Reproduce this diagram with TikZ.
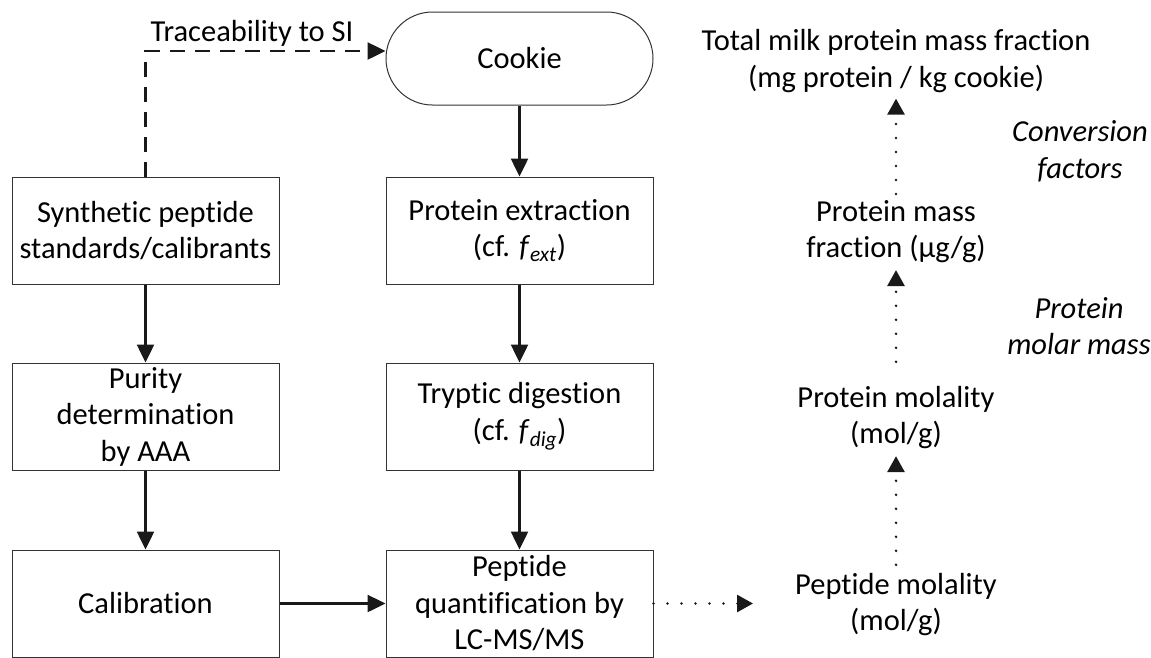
\documentclass[tikz,border=0pt]{standalone}
\usepackage{fontspec}
\setmainfont[Ligatures=NoCommon]{Carlito}
\usetikzlibrary{arrows.meta}
\begin{document}
\begin{tikzpicture}[x=1pt,y=-1pt,
  txt/.style={font=\fontsize{30.5}{36.5}\selectfont, align=center, inner sep=0pt},
  itxt/.style={txt, font=\fontsize{30.5}{36.5}\selectfont\itshape},
  stepbox/.style={txt, draw=black!80, line width=1pt, minimum width=267pt, minimum height=107pt},
  solidarrow/.style={line width=2.5pt, draw=black!90, -{Triangle[length=18pt,width=17pt]}},
  dasharrow/.style={line width=2.5pt, draw=black!90, dash pattern=on 15pt off 10pt, -{Triangle[length=18pt,width=17pt]}},
  dotarrow/.style={line width=2.8pt, draw=black!90, line cap=round, dash pattern=on 0pt off 14pt, -{Triangle[length=16pt,width=17pt,line cap=butt,line join=miter]}}
]
\useasboundingbox (0,0) rectangle (1151,657);
% left column
\node[stepbox] (syn) at (145.5,230.5) {Synthetic peptide\\standards/calibrants};
\node[stepbox] (pur) at (145.5,416.5) {Purity\\determination\\by AAA};
\node[stepbox] (cal) at (145.5,603.5) {Calibration};
% middle column
\node[txt, draw=black!80, line width=1pt, minimum width=267pt, minimum height=93pt, rounded corners=46.5pt] (cookie) at (519.5,58.5) {Cookie};
\node[stepbox] (ext) at (519.5,230.5) {Protein extraction\\(cf. \textit{f}\textsubscript{\textit{ext}})};
\node[stepbox] (dig) at (519.5,416.5) {Tryptic digestion\\(cf. \textit{f}\textsubscript{\textit{dig}})};
\node[stepbox] (pep) at (519.5,603.5) {Peptide\\quantification by\\LC-MS/MS};
% right column
\node[txt] (tot) at (896,61) {Total milk protein mass fraction\\(mg protein / kg cookie)};
\node[txt] (pmf) at (896,231.5) {Protein mass\\fraction (μg/g)};
\node[txt] (prm) at (896,417.5) {Protein molality\\(mol/g)};
\node[txt] (pml) at (896,604.5) {Peptide molality\\(mol/g)};
\node[itxt] (conv) at (1080,151.5) {Conversion\\factors};
\node[itxt] (molm) at (1079,326) {Protein\\molar mass};
% traceability
\node[txt] (trlab) at (252,33) {Traceability to SI};
\coordinate (tr) at (145.5,51);
% connectors
\draw[dasharrow] (syn.north) -- (tr) -- (tr -| cookie.west);
\draw[solidarrow] (cookie.south) -- (ext.north);
\draw[solidarrow] (ext.south) -- (dig.north);
\draw[solidarrow] (dig.south) -- (pep.north);
\draw[solidarrow] (syn.south) -- (pur.north);
\draw[solidarrow] (pur.south) -- (cal.north);
\draw[solidarrow] (cal.east) -- (pep.west);
\draw[dotarrow] (pep.east) -- ([xshift=-42pt]pml.west |- pep.east);
\draw[dotarrow] ([yshift=8pt]pml.north) -- ([yshift=-7pt]prm.south);
\draw[dotarrow] ([yshift=24pt]prm.north) -- ([yshift=-7pt]pmf.south);
\draw[dotarrow] ([yshift=6pt]pmf.north) -- ([yshift=-6pt]tot.south);
\end{tikzpicture}
\end{document}
